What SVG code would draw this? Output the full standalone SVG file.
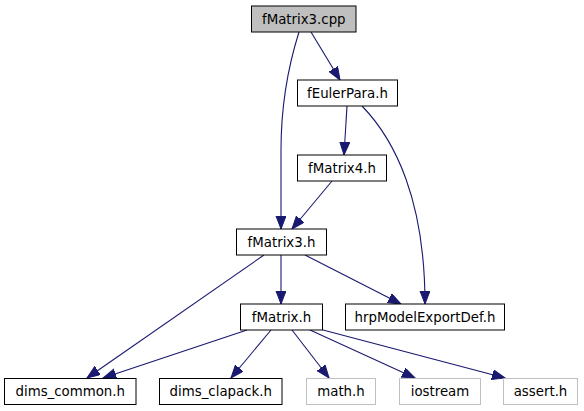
<svg xmlns="http://www.w3.org/2000/svg" width="584" height="411" viewBox="0 0 584 411">
<style>
  .node rect { fill: #ffffff; stroke: #000000; stroke-width: 1; }
  .node.grey rect { stroke: #bfbfbf; }
  .node.root rect { fill: #bfbfbf; }
  .node text { font-family: "DejaVu Sans", sans-serif; font-size: 13.33px; fill: #000000; text-anchor: middle; }
  .edges path { fill: none; stroke: #191970; stroke-width: 1.1; marker-end: url(#arrow); }
</style>
<defs>
  <marker id="arrow" markerUnits="userSpaceOnUse" markerWidth="14" markerHeight="12" refX="13" refY="5" orient="auto">
    <path d="M0,0 L13,5 L0,10 z" fill="#191970" stroke="#191970" stroke-width="1"/>
  </marker>
</defs>
<rect width="584" height="411" fill="#ffffff"/>
<g class="edges">
  <path d="M311,32 L340,80"/>
  <path d="M299,32 C287,70 281,110 281,150 L281,229"/>
  <path d="M347,106 L344,155"/>
  <path d="M362,106 C395,140 425,200 425,304"/>
  <path d="M332,181 L292,229"/>
  <path d="M264,255 L87,378"/>
  <path d="M281,255 L281,304"/>
  <path d="M305,255 L401,304"/>
  <path d="M247,330 L103,378"/>
  <path d="M271,330 L231,378"/>
  <path d="M292,330 L329,378"/>
  <path d="M310,330 L415,378"/>
  <path d="M323,330 L505,378"/>
</g>
<g id="node_fMatrix3_cpp" class="node root"><rect x="251.5" y="6" width="104.5" height="26"/><text x="303.75" y="23.5">fMatrix3.cpp</text></g>
<g id="node_fEulerPara_h" class="node"><rect x="297.5" y="80" width="100" height="26"/><text x="347.5" y="97.5">fEulerPara.h</text></g>
<g id="node_fMatrix4_h" class="node"><rect x="297.5" y="155" width="89" height="26"/><text x="342" y="172.5">fMatrix4.h</text></g>
<g id="node_fMatrix3_h" class="node"><rect x="236.5" y="229" width="90" height="26"/><text x="281.5" y="246.5">fMatrix3.h</text></g>
<g id="node_fMatrix_h" class="node"><rect x="240.5" y="304" width="82" height="26"/><text x="281.5" y="321.5">fMatrix.h</text></g>
<g id="node_hrpModelExportDef_h" class="node"><rect x="345.5" y="304" width="159" height="26"/><text x="425" y="321.5">hrpModelExportDef.h</text></g>
<g id="node_dims_common_h" class="node"><rect x="4.5" y="378.5" width="131.5" height="26"/><text x="70.25" y="396">dims_common.h</text></g>
<g id="node_dims_clapack_h" class="node"><rect x="159.5" y="378.5" width="122.5" height="26"/><text x="220.75" y="396">dims_clapack.h</text></g>
<g id="node_math_h" class="node grey"><rect x="306.5" y="378.5" width="69" height="26"/><text x="341" y="396">math.h</text></g>
<g id="node_iostream" class="node grey"><rect x="399.5" y="378.5" width="81" height="26"/><text x="440" y="396">iostream</text></g>
<g id="node_assert_h" class="node grey"><rect x="503.5" y="378.5" width="74" height="26"/><text x="540.5" y="396">assert.h</text></g>
</svg>
